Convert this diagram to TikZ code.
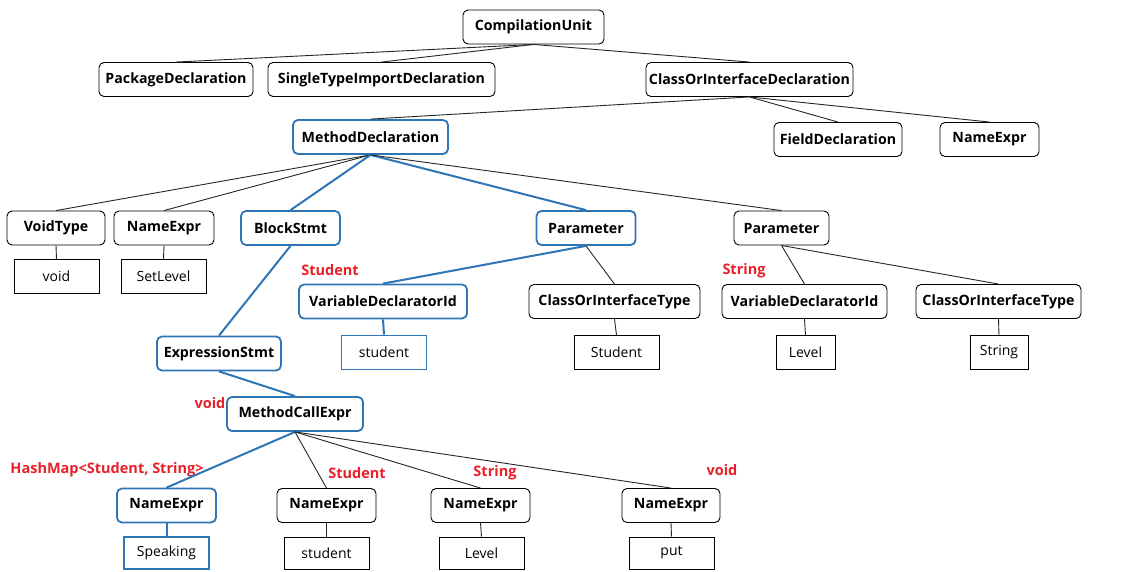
\documentclass[tikz,border=0pt]{standalone}
\usepackage{fontspec}
\setmainfont{Open Sans}
\begin{document}
\begin{tikzpicture}[x=1pt,y=-1pt,
  every node/.style={inner sep=0pt, font=\fontsize{14}{16}\selectfont},
  ast/.style={draw=black, line width=0.9pt, rounded corners=5pt, fill=white,
              minimum height=34pt, font=\fontsize{14.2}{16}\selectfont\bfseries},
  astsel/.style={ast, draw=selblue, line width=1.8pt},
  leaf/.style={draw=black, line width=0.9pt, fill=white, minimum height=34pt,
               minimum width=85pt},
  leafsel/.style={leaf, draw=selblue, line width=1.8pt},
  edge/.style={draw=black!85, line width=0.9pt},
  seledge/.style={draw=selblue, line width=2pt},
  typ/.style={text=typred, font=\fontsize{14.5}{16}\selectfont\bfseries}
]
\definecolor{selblue}{HTML}{2E75B6}
\definecolor{typred}{HTML}{E8202A}
\useasboundingbox (0,0) rectangle (1125,571);

% level 0-1
\node[ast, minimum width=141pt] (cu)   at (533.5,27)  {CompilationUnit};
\node[ast, minimum width=154pt] (pkg)  at (176,79.5)  {PackageDeclaration};
\node[ast, minimum width=227pt] (sti)  at (381.5,79.5){SingleTypeImportDeclaration};
\node[ast, minimum width=207pt] (coid) at (749.5,79.5){ClassOrInterfaceDeclaration};

% class members
\node[astsel, minimum width=155pt] (md) at (370.5,137) {MethodDeclaration};
\node[ast, minimum width=128pt] (fd)  at (838,139.5)  {FieldDeclaration};
\node[ast, minimum width=99pt]  (ne0) at (989.5,139.5){NameExpr};

% method children
\node[ast, minimum width=98pt]  (vt)  at (56,228)   {VoidType};
\node[ast, minimum width=100pt] (ne1) at (164,228)  {NameExpr};
\node[astsel, minimum width=99pt] (bs) at (290.5,228) {BlockStmt};
\node[astsel, minimum width=99pt] (p1) at (586,228) {Parameter};
\node[ast, minimum width=95pt]  (p2)  at (781.5,228){Parameter};

\node[leaf] (lvoid) at (56.5,276.5)  {void};
\node[leaf] (lset)  at (163.5,276.5) {SetLevel};

% parameters
\node[astsel, minimum width=168pt] (vdi1) at (383,301.5) {VariableDeclaratorId};
\node[ast, minimum width=171pt]  (coit1) at (614.5,301.5) {ClassOrInterfaceType};
\node[ast, minimum width=165pt]  (vdi2)  at (804.5,301.5) {VariableDeclaratorId};
\node[ast, minimum width=165pt]  (coit2) at (998.5,301.5) {ClassOrInterfaceType};

\node[leafsel] (lstu1) at (384,352.5) {student};
\node[leaf] (lStu)  at (616.5,352.5) {Student};
\node[leaf, minimum width=59pt] (llev1) at (805.5,352.5) {Level};
\node[leaf, minimum width=58pt] (lstr)  at (999,352.5)   {String};

% body
\node[astsel, minimum width=124pt] (es)  at (219,353.5) {ExpressionStmt};
\node[astsel, minimum width=136pt] (mce) at (295,414)   {MethodCallExpr};

\node[astsel, minimum width=99pt] (nb1) at (166.5,505.5) {NameExpr};
\node[ast, minimum width=99pt]    (nb2) at (326.5,505.5) {NameExpr};
\node[ast, minimum width=99pt]    (nb3) at (480.5,505.5) {NameExpr};
\node[ast, minimum width=98pt]    (nb4) at (671,505.5)   {NameExpr};

\node[leafsel, minimum height=32pt] (lspk)  at (166.5,553) {Speaking};
\node[leaf, minimum height=32pt]    (lstu2) at (326.5,553) {student};
\node[leaf, minimum height=32pt]    (llev2) at (481.5,553) {Level};
\node[leaf, minimum height=32pt]    (lput)  at (671.5,553) {put};

% resolved types
\node[typ] (tStu1) at (330,270)   {Student};
\node[typ] (tStr1) at (744,271)   {String};
\node[typ] (tVoid) at (210,403)   {void};
\node[typ] (tMap)  at (107,470)   {HashMap<Student, String>};
\node[typ] (tStu2) at (357,473)   {Student};
\node[typ] (tStr2) at (495,473)   {String};
\node[typ] (tVoid2) at (722,470)  {void};

% tree edges
\path[edge] (cu.south) -- (pkg.north);
\path[edge] (cu.south) -- (sti.north);
\path[edge] (cu.south) -- (coid.north);
\path[edge] (coid.south) -- (md.north);
\path[edge] (coid.south) -- (fd.north);
\path[edge] (coid.south) -- (ne0.north);
\path[edge] (md.south) -- (vt.north);
\path[edge] (md.south) -- (ne1.north);
\path[seledge] (md.south) -- (bs.north);
\path[seledge] (md.south) -- (p1.north);
\path[edge] (md.south) -- (p2.north);
\path[edge] (vt.south) -- (lvoid.north);
\path[edge] (ne1.south) -- (lset.north);
\path[seledge] (p1.south) -- (vdi1.north);
\path[edge] (p1.south) -- (coit1.north);
\path[edge] (p2.south) -- (vdi2.north);
\path[edge] (p2.south) -- (coit2.north);
\path[seledge] (vdi1.south) -- (lstu1.north);
\path[edge] (coit1.south) -- (lStu.north);
\path[edge] (vdi2.south) -- (llev1.north);
\path[edge] (coit2.south) -- (lstr.north);
\path[seledge] (bs.south) -- (es.north);
\path[seledge] (es.south) -- (mce.north);
\path[seledge] (mce.south) -- (nb1.north);
\path[edge] (mce.south) -- (nb2.north);
\path[edge] (mce.south) -- (nb3.north);
\path[edge] (mce.south) -- (nb4.north);
\path[seledge] (nb1.south) -- (lspk.north);
\path[edge] (nb2.south) -- (lstu2.north);
\path[edge] (nb3.south) -- (llev2.north);
\path[edge] (nb4.south) -- (lput.north);
\end{tikzpicture}
\end{document}
